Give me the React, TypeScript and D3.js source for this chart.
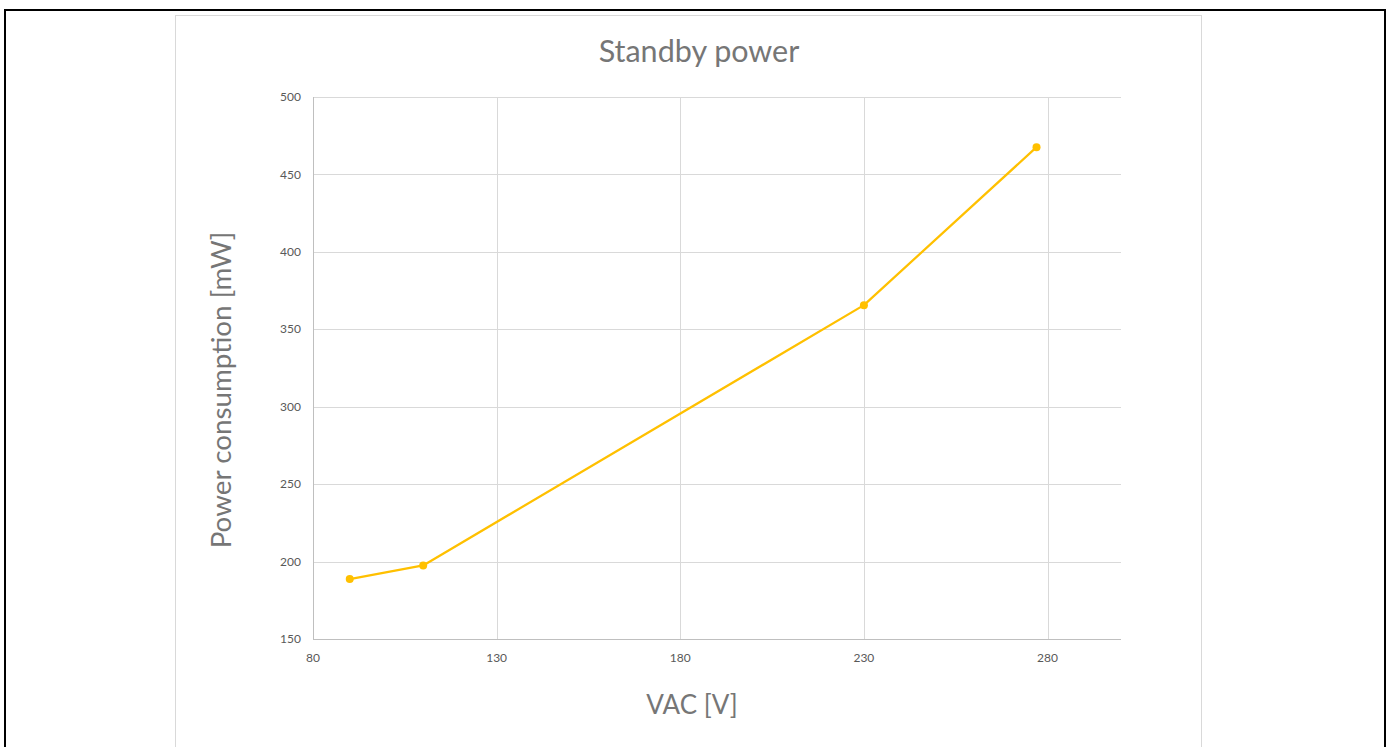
import React from "react";
import * as d3 from "d3";

const vac: number[] = [90, 110, 230, 277];
const power: number[] = [188.7, 197.5, 365.6, 467.6];
const xTicks: number[] = [80, 130, 180, 230, 280];
const yTicks: number[] = [150, 200, 250, 300, 350, 400, 450, 500];
const title = "Standby power";
const xLabel = "VAC [V]";
const yLabel = "Power consumption [mW]";

const W = 1392;
const H = 747;
const FONT = "Lato, 'Open Sans', sans-serif";

export default function App() {
  const left = 313, right = 1121, top = 97, bottom = 639;
  const x = d3.scaleLinear().domain([80, 300]).range([left, right]);
  const y = d3.scaleLinear().domain([150, 500]).range([bottom, top]);
  const line = d3.line<number>().x((_, i) => x(vac[i])).y((d) => y(d));
  const grid = "#d9d9d9";
  const tickColor = "#595959";
  return (
    <svg width={W} height={H} style={{ position: "absolute", left: 0, top: 0, display: "block" }}>
      <rect x={0} y={0} width={W} height={H} fill="#fff" />
      <rect x={5} y={10} width={1380} height={760} fill="none" stroke="#000" strokeWidth={2} />
      <rect x={175.5} y={15.5} width={1026} height={760} fill="#fff" stroke="#d9d9d9" strokeWidth={1} />
      {yTicks.map((t) => (
        <line key={"gy" + t} x1={left} x2={right} y1={Math.round(y(t)) + 0.5} y2={Math.round(y(t)) + 0.5} stroke={grid} strokeWidth={1} />
      ))}
      {xTicks.map((t) => (
        <line key={"gx" + t} x1={Math.round(x(t)) + 0.5} x2={Math.round(x(t)) + 0.5} y1={top} y2={bottom} stroke={grid} strokeWidth={1} />
      ))}
      <line x1={left + 0.5} x2={left + 0.5} y1={top} y2={bottom} stroke="#bfbfbf" strokeWidth={1} />
      <line x1={left} x2={right} y1={bottom + 0.5} y2={bottom + 0.5} stroke="#bfbfbf" strokeWidth={1} />
      {yTicks.map((t) => (
        <text key={"ty" + t} x={301} y={y(t)} dy="0.35em" textAnchor="end" fontFamily={FONT} fontSize={12} fill={tickColor}>
          {t}
        </text>
      ))}
      {xTicks.map((t) => (
        <text key={"tx" + t} x={x(t)} y={658} dy="0.35em" textAnchor="middle" fontFamily={FONT} fontSize={12} fill={tickColor}>
          {t}
        </text>
      ))}
      <path d={line(power) || ""} fill="none" stroke="#ffc000" strokeWidth={2.25} strokeLinejoin="round" />
      {power.map((p, i) => (
        <circle key={"pt" + i} cx={x(vac[i])} cy={y(p)} r={4} fill="#ffc000" />
      ))}
      <text x={699} y={51} dy="0.35em" textAnchor="middle" fontFamily={FONT} fontSize={30.5} fill="#767676">
        {title}
      </text>
      <text x={692} y={705} dy="0.35em" textAnchor="middle" fontFamily={FONT} fontSize={26} fill="#767676">
        {xLabel}
      </text>
      <text transform={`translate(221,390) rotate(-90)`} dy="0.35em" textAnchor="middle" fontFamily={FONT} fontSize={27.8} fill="#767676">
        {yLabel}
      </text>
    </svg>
  );
}
